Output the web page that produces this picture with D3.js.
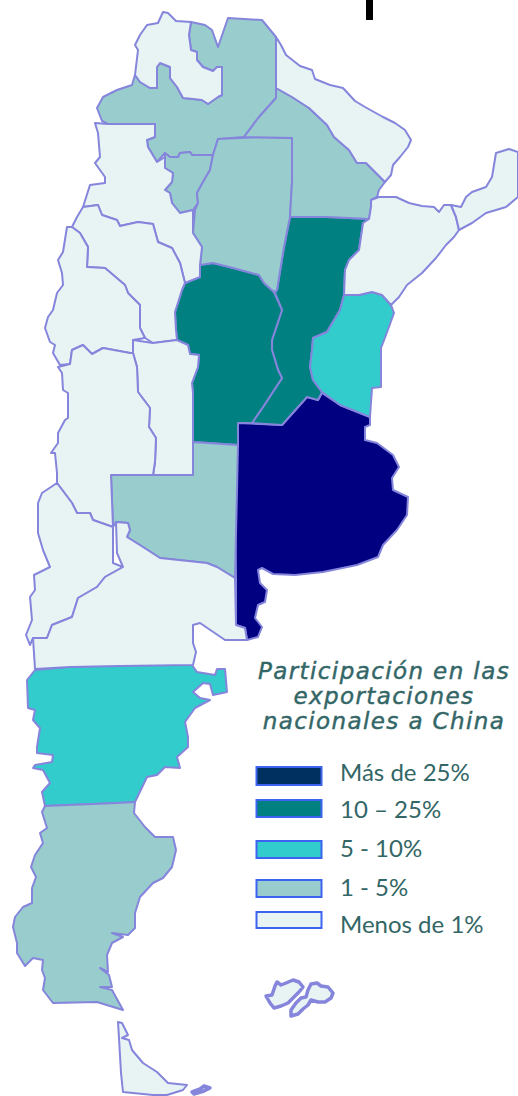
<!DOCTYPE html>
<html>
<head>
  <meta charset="utf-8">
  <title>Participación en las exportaciones nacionales a China</title>
  <script src="https://d3js.org/d3.v7.min.js"></script>
  <style>
    html, body { margin: 0; background: #fff; }
    svg { display: block; }
    .province { stroke: #8585dc; stroke-width: 2px; stroke-linejoin: round; }
    .island { stroke-width: 3.5px; }
    .title { font-family: "DejaVu Sans", sans-serif; font-style: italic; font-size: 23px; letter-spacing: 1.4px; fill: #336666; stroke: #336666; stroke-width: 0.45px; text-anchor: middle; }
    .label { font-family: Lato, sans-serif; font-size: 24px; fill: #336666; }
  </style>
</head>
<body>
  <svg width="518" height="1096"></svg>
  <script>
    // classes, from highest share to lowest
    const categories = ["Más de 25%", "10 – 25%", "5 - 10%", "1 - 5%", "Menos de 1%"];
    const mapColors = ["#000080", "#008080", "#33cccc", "#99cccc", "#e8f4f4"];
    const legendColors = ["#00305f", "#008080", "#33cccc", "#99cccc", "#e8f4f4"];
    const titleLines = ["Participación en las", "exportaciones", "nacionales a China"];

    // outlines, in picture units
    const jujuy = [[163,12],[168,13],[176,21],[191,22],[189,35],[191,50],[197,52],[197,60],[203,67],[213,71],[217,67],[222,67],[222,95],[218,97],[208,104],[202,100],[193,99],[183,98],[177,87],[170,78],[170,67],[160,63],[157,67],[157,88],[150,88],[140,82],[135,75],[138,50],[135,45],[140,35],[147,25],[158,23]];
    const salta = [[135,75],[132,85],[117,90],[103,97],[97,108],[102,121],[108,124],[155,124],[155,137],[147,140],[148,147],[157,162],[165,153],[170,157],[178,157],[180,153],[190,152],[192,155],[213,155],[218,139],[244,137],[259,117],[276,98],[276,37],[262,20],[228,18],[218,47],[212,30],[205,25],[191,22],[189,35],[191,50],[197,52],[197,60],[203,67],[213,71],[217,67],[222,67],[222,95],[218,97],[208,104],[202,100],[193,99],[183,98],[177,87],[170,78],[170,67],[160,63],[157,67],[157,88],[150,88],[140,82]];
    const tucuman = [[165,157],[165,168],[173,173],[172,182],[165,190],[170,193],[172,203],[180,213],[193,210],[198,203],[197,193],[203,182],[210,170],[213,155],[192,155],[190,152],[180,153],[178,157],[170,157],[165,153]];
    const santiago = [[218,139],[259,137],[292,138],[292,182],[290,217],[284,247],[277,290],[274,292],[264,283],[259,275],[233,268],[213,263],[200,265],[202,247],[193,233],[195,210],[198,203],[197,193],[203,182],[210,170],[213,155]];
    const chaco = [[244,137],[259,117],[276,98],[276,88],[292,97],[309,108],[327,125],[334,137],[349,150],[357,163],[366,163],[385,182],[379,190],[377,197],[371,200],[371,207],[369,219],[327,217],[290,217],[292,182],[292,138]];
    const formosa = [[276,37],[281,45],[286,55],[300,66],[312,70],[315,79],[330,85],[343,88],[355,101],[365,107],[383,117],[395,123],[405,130],[411,140],[408,147],[400,157],[393,165],[391,175],[385,182],[366,163],[357,163],[349,150],[334,137],[327,125],[309,108],[292,97],[276,88]];
    const corrientes = [[379,197],[396,197],[409,203],[422,206],[434,207],[439,212],[444,205],[451,205],[456,217],[459,230],[454,237],[446,245],[436,258],[422,273],[407,285],[399,297],[391,305],[382,295],[372,292],[359,295],[344,295],[345,270],[349,260],[359,250],[363,223],[369,219],[371,207],[371,200]];
    const misiones = [[451,205],[461,207],[466,197],[472,192],[486,187],[492,177],[496,153],[509,149],[518,152],[518,197],[506,207],[486,213],[472,223],[459,230],[456,217]];
    const santaFe = [[290,217],[327,217],[369,219],[363,223],[359,250],[349,260],[345,270],[344,295],[340,310],[327,332],[313,338],[312,350],[310,367],[313,380],[322,392],[318,400],[307,397],[282,425],[252,423],[263,407],[282,378],[278,370],[272,350],[272,340],[282,310],[275,293],[277,290],[284,247]];
    const cordoba = [[200,265],[213,263],[233,268],[259,275],[264,283],[274,292],[282,310],[272,340],[272,350],[278,370],[282,378],[263,407],[252,423],[238,423],[238,445],[193,442],[193,393],[192,383],[198,367],[199,355],[190,354],[188,345],[177,340],[176,330],[175,312],[182,290],[185,283],[200,277]];
    const buenosAires = [[238,423],[282,425],[307,397],[318,400],[322,393],[340,405],[370,417],[370,425],[365,427],[365,440],[377,443],[393,455],[399,467],[392,478],[393,490],[408,497],[407,515],[397,530],[383,545],[378,557],[357,565],[323,572],[295,575],[273,574],[262,568],[258,570],[260,583],[267,590],[265,602],[258,605],[255,618],[262,627],[258,637],[247,640],[245,628],[236,625],[236,577],[235,517],[237,447]];
    const entreRios = [[344,295],[359,295],[372,292],[382,295],[391,305],[394,313],[386,335],[381,348],[381,387],[372,388],[370,417],[340,405],[322,392],[313,380],[310,367],[312,350],[313,338],[327,332],[340,310]];
    const laPampa = [[111,475],[193,475],[193,442],[238,445],[235,578],[217,567],[207,563],[160,558],[143,547],[127,537],[130,530],[128,523],[116,522],[113,527]];
    const sanLuis = [[133,340],[153,343],[177,340],[188,345],[190,354],[199,355],[198,367],[192,383],[193,393],[193,475],[153,475],[155,462],[156,438],[149,427],[150,408],[138,392],[137,367],[133,353]];
    const mendoza = [[72,350],[83,345],[92,354],[103,348],[130,353],[133,353],[137,367],[138,392],[150,408],[149,427],[156,438],[155,462],[153,475],[111,475],[113,527],[93,520],[90,513],[77,513],[72,503],[57,483],[57,473],[55,453],[51,453],[58,443],[58,433],[65,420],[68,418],[68,393],[63,390],[62,373],[58,367],[70,364]];
    const neuquen = [[57,483],[72,503],[77,513],[90,513],[93,520],[113,527],[113,563],[123,567],[105,577],[97,587],[78,598],[72,617],[52,625],[47,638],[33,638],[30,645],[26,635],[32,620],[30,597],[35,590],[34,575],[50,567],[43,550],[38,533],[38,503],[42,493]];
    const rioNegro = [[33,638],[47,638],[52,625],[72,617],[78,598],[97,587],[105,577],[123,567],[117,553],[116,522],[128,523],[130,530],[127,537],[143,547],[160,558],[207,563],[217,567],[235,578],[236,625],[245,628],[247,640],[225,640],[200,623],[193,625],[193,643],[196,652],[193,665],[120,666],[70,667],[35,669]];
    const catamarca = [[95,123],[108,124],[155,124],[155,137],[147,140],[148,147],[157,162],[165,157],[165,168],[173,173],[172,182],[165,190],[170,193],[172,203],[180,213],[193,210],[193,233],[202,247],[200,265],[200,277],[185,283],[180,263],[172,248],[158,242],[153,224],[138,222],[120,226],[117,220],[102,215],[98,205],[83,207],[90,185],[105,183],[105,177],[95,163],[100,157],[98,133]];
    const laRioja = [[83,207],[98,205],[102,215],[117,220],[120,226],[138,222],[153,224],[158,242],[172,248],[180,263],[185,283],[182,290],[175,312],[176,330],[177,340],[153,343],[145,338],[140,328],[140,305],[128,293],[125,285],[105,268],[87,267],[88,247],[80,233],[72,227],[77,217]];
    const sanJuan = [[72,227],[80,233],[88,247],[87,267],[105,268],[125,285],[128,293],[140,305],[140,328],[145,338],[133,340],[133,353],[130,353],[103,348],[92,354],[83,345],[72,350],[70,364],[60,365],[53,353],[55,345],[50,342],[45,328],[48,317],[53,310],[57,293],[63,285],[62,273],[58,260],[63,252],[67,227]];
    const chubut = [[35,670],[68,667],[120,665],[192,665],[197,672],[215,675],[217,669],[225,669],[227,692],[213,695],[210,684],[203,683],[193,692],[200,698],[210,700],[195,708],[185,722],[188,737],[188,747],[177,757],[180,768],[165,767],[157,775],[147,777],[135,802],[117,803],[68,805],[45,806],[42,792],[50,783],[43,770],[33,768],[35,765],[52,762],[53,755],[37,753],[37,747],[40,728],[33,720],[35,710],[28,708],[27,680]];
    const santaCruz = [[45,806],[68,805],[117,803],[135,802],[134,813],[145,827],[155,837],[173,837],[176,850],[172,867],[163,878],[153,883],[140,897],[135,913],[135,928],[128,935],[112,933],[123,937],[112,943],[107,955],[108,972],[100,968],[109,975],[112,987],[100,987],[112,990],[123,1010],[110,1006],[97,1002],[53,1003],[43,990],[45,978],[42,970],[43,960],[33,958],[25,966],[17,953],[17,943],[13,927],[15,917],[23,907],[32,903],[32,888],[36,877],[31,867],[35,855],[43,843],[40,833],[47,828],[42,812]];
    const tierraDelFuego = [[118,1022],[122,1023],[128,1035],[122,1038],[129,1040],[132,1050],[143,1063],[157,1072],[168,1083],[187,1085],[183,1090],[167,1095],[153,1095],[123,1092],[121,1073],[119,1038]];
    const estados = [[192,1092],[200,1089],[204,1086],[210,1088],[204,1091],[194,1094]];
    const soledad = [[308,990],[311,984],[317,983],[321,986],[328,987],[333,993],[331,998],[325,1002],[318,1002],[311,1000],[308,1005],[303,1009],[298,1014],[291,1016],[291,1010],[296,1003],[301,998],[306,997]];
    const granMalvina = [[266,996],[272,995],[275,986],[277,982],[281,985],[286,983],[293,980],[299,982],[303,987],[299,992],[293,998],[288,1003],[281,1006],[274,1008],[270,1003]];

    const regions = [
      [buenosAires, 0], [santaFe, 1], [cordoba, 1], [entreRios, 2], [chubut, 2],
      [salta, 3], [tucuman, 3], [santiago, 3], [chaco, 3], [laPampa, 3], [santaCruz, 3],
      [jujuy, 4], [formosa, 4], [corrientes, 4], [misiones, 4], [catamarca, 4], [laRioja, 4],
      [sanJuan, 4], [sanLuis, 4], [mendoza, 4], [neuquen, 4], [rioNegro, 4], [tierraDelFuego, 4]
    ];
    const islands = [soledad, granMalvina, estados];

    const svg = d3.select("svg");
    const color = d3.scaleOrdinal().domain(d3.range(5)).range(mapColors);
    const path = d3.geoPath(d3.geoIdentity());

    const toFeature = (ring, cls) => ({
      type: "Feature",
      properties: { cls },
      geometry: { type: "Polygon", coordinates: [ring.concat([ring[0]])] }
    });

    svg.append("g").selectAll("path")
      .data(regions.map(([ring, cls]) => toFeature(ring, cls)))
      .join("path")
      .attr("class", "province")
      .attr("d", path)
      .attr("fill", d => color(d.properties.cls));

    svg.append("g").selectAll("path")
      .data(islands.map(ring => toFeature(ring, 4)))
      .join("path")
      .attr("class", "province island")
      .attr("d", path)
      .attr("fill", d => color(d.properties.cls));

    // the black tick at the top edge
    svg.append("rect").attr("x", 366).attr("y", 0).attr("width", 7).attr("height", 20).attr("fill", "#000");

    svg.append("g").selectAll("text")
      .data(titleLines)
      .join("text")
      .attr("class", "title")
      .attr("x", 384)
      .attr("y", (d, i) => [679, 704, 729][i])
      .text(d => d);

    const boxTop = [767, 800, 841, 880, 912];
    const boxHeight = [18, 17, 17, 17, 16];
    const textBase = [781, 818, 857, 896, 933];

    const legend = svg.append("g").selectAll("g").data(categories).join("g");
    legend.append("rect")
      .attr("x", 256.5)
      .attr("y", (d, i) => boxTop[i])
      .attr("width", 65)
      .attr("height", (d, i) => boxHeight[i])
      .attr("fill", (d, i) => legendColors[i])
      .attr("stroke", "#3c64f0")
      .attr("stroke-width", 2);
    legend.append("text")
      .attr("class", "label")
      .attr("x", 340)
      .attr("y", (d, i) => textBase[i])
      .text(d => d);
  </script>
</body>
</html>
